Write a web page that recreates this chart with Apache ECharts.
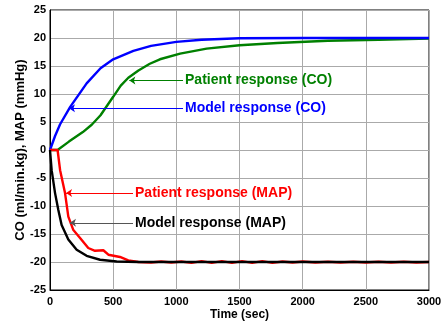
<!DOCTYPE html>
<html><head><meta charset="utf-8">
<script src="https://cdn.jsdelivr.net/npm/echarts@6/dist/echarts.min.js"></script>
<style>html,body{margin:0;padding:0;background:#fff}#c{width:442px;height:322px}</style>
</head><body><div id="c"></div>
<script>
// Time (sec), value pairs
const modelCO = [[0,0],[40,2.5],[80,4.6],[160,7.7],[290,11.9],[400,14.6],[500,16.2],[660,17.7],[800,18.6],[1000,19.3],[1200,19.7],[1500,19.95],[2000,20],[3000,20]];
const patientCO = [[0,0],[60,0],[150,1.5],[260,3.2],[330,4.5],[400,6.2],[500,9.5],[560,11.5],[620,12.9],[700,14.2],[790,15.4],[870,16.2],[1030,17.2],[1240,18.1],[1500,18.7],[1800,19.1],[2200,19.5],[2600,19.7],[3000,19.9]];
const patientMAP = [[0,0],[60,0],[80,-3.6],[119,-7.7],[145,-11.9],[185,-14.3],[238,-15.7],[303,-17.5],[356,-18.0],[422,-17.9],[462,-18.7],[554,-19.1],[620,-19.7],[700,-20],[800,-20.1],[880,-19.9],[960,-20.1],[1040,-19.9],[1120,-20.15],[1200,-19.85],[1280,-20.15],[1360,-19.85],[1440,-20.15],[1520,-19.85],[1600,-20.15],[1680,-19.85],[1760,-20.15],[1840,-19.9],[1920,-20.1],[2000,-19.9],[2100,-20.1],[2200,-19.95],[2300,-20.1],[2400,-19.95],[2500,-20.1],[2600,-19.95],[2700,-20.1],[2800,-19.95],[2900,-20.1],[3000,-20]];
const modelMAP = [[0,0],[13,-3.6],[40,-7.7],[66,-10.7],[92,-13.4],[145,-16.0],[211,-17.8],[290,-18.9],[396,-19.6],[528,-19.9],[700,-20],[3000,-20]];
const xTicks = {min:0, max:3000, step:500};
const yTicks = {min:-25, max:25, step:5};
// annotation arrows: text, start (text side) and arrow tip
const annCO_patient = {text:'Patient response (CO)', from:[1053,12.4], to:[628,12.4]};
const annCO_model = {text:'Model response (CO)', from:[1053,7.45], to:[150,7.45]};
const annMAP_patient = {text:'Patient response (MAP)', from:[657,-7.7], to:[127,-7.7]};
const annMAP_model = {text:'Model response (MAP)', from:[657,-13.0], to:[158,-13.0]};

const FONT = 'Liberation Sans, Arial, sans-serif';
function arrow(a, lineColor, textColor){
  return {
    silent:true, symbol:['none','arrow'], symbolSize:6,
    lineStyle:{color:lineColor, width:1, type:'solid'},
    label:{show:true, position:'start', distance:2, formatter:a.text, color:textColor, fontFamily:FONT, fontWeight:'bold', fontSize:14},
    data:[[{coord:a.from},{coord:a.to}]]
  };
}
function line(data, color, ann, annLine){
  return {type:'line', data:data, showSymbol:false, symbol:'none', lineStyle:{color:color, width:2.4}, itemStyle:{color:color}, markLine: arrow(ann, annLine||color, color), z:2};
}
const chart = echarts.init(document.getElementById('c'), null, {renderer:'canvas'});
chart.setOption({
  animation:false,
  backgroundColor:'#fff',
  grid:{left:50, right:13, top:10, bottom:32, outerBoundsMode:'none', containLabel:false, show:true, borderColor:'#000', borderWidth:1, backgroundColor:'transparent'},
  xAxis:{type:'value', min:xTicks.min, max:xTicks.max, interval:xTicks.step,
    name:'Time (sec)', nameLocation:'middle', nameGap:19, nameMoveOverlap:false,
    nameTextStyle:{fontFamily:FONT, fontWeight:'bold', fontSize:12, color:'#000'},
    axisLine:{onZero:false, lineStyle:{color:'#000', width:1}}, axisTick:{show:false},
    axisLabel:{fontFamily:FONT, fontWeight:'bold', fontSize:11, color:'#000', margin:6, formatter:v=>String(v)},
    splitLine:{show:true, lineStyle:{color:'#aaa', width:1}}},
  yAxis:{type:'value', min:yTicks.min, max:yTicks.max, interval:yTicks.step,
    name:'CO (ml/min.kg), MAP (mmHg)', nameLocation:'middle', nameGap:23, nameMoveOverlap:false,
    nameTextStyle:{fontFamily:FONT, fontWeight:'bold', fontSize:13, color:'#000'},
    axisLine:{onZero:false, lineStyle:{color:'#000', width:1}}, axisTick:{show:false},
    axisLabel:{fontFamily:FONT, fontWeight:'bold', fontSize:11, color:'#000', margin:4, formatter:v=>String(v)},
    splitLine:{show:true, lineStyle:{color:'#aaa', width:1}}},
  series:[
    line(patientCO, '#008000', annCO_patient),
    line(modelCO, '#0000ff', annCO_model),
    line(patientMAP, '#ff0000', annMAP_patient),
    line(modelMAP, '#000000', annMAP_model, '#555')
  ]
});
</script></body></html>
